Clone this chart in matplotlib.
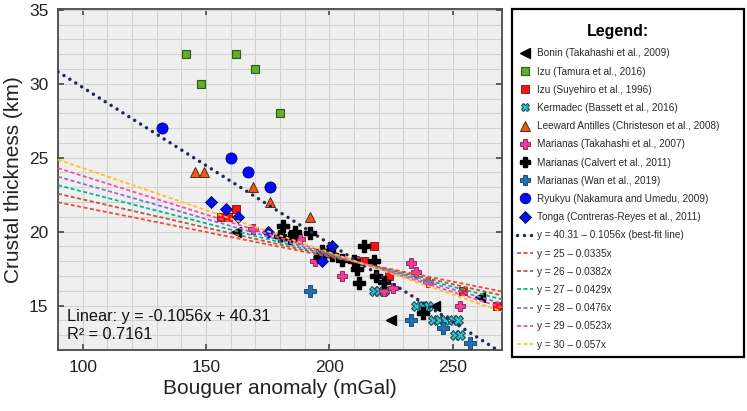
import numpy as np
import matplotlib
matplotlib.use("Agg")
import matplotlib.pyplot as plt
from matplotlib.patches import Rectangle
from matplotlib.ticker import MultipleLocator

plt.rcParams['font.family'] = ['Liberation Sans', 'DejaVu Sans']

# data (Bouguer anomaly mGal, crustal thickness km)
bonin_x = [162, 225, 243, 261]
bonin_y = [20, 14, 15, 15.6]

izu_tamura_x = [142, 162, 170, 148, 180]
izu_tamura_y = [32, 32, 31, 30, 28]

izu_suyehiro_x = [156, 159, 162, 218, 214, 224, 254, 268]
izu_suyehiro_y = [21, 21, 21.5, 19, 18, 17, 16, 15]

kermadec_x = [218, 220, 222, 235, 238, 240, 242, 244.5, 247, 250, 252, 251, 253]
kermadec_y = [16, 16, 16, 15, 15, 15, 14, 14, 14, 14, 14, 13, 13]

leeward_x = [145.5, 149, 169, 176, 192, 180.5]
leeward_y = [24, 24, 23, 22, 21, 20]

mar_takahashi_x = [169, 188, 194, 211, 205, 222, 225.6, 233, 235, 240, 253]
mar_takahashi_y = [20.2, 19.5, 18, 18, 17, 16, 16.2, 17.9, 17.3, 16.6, 15]

mar_calvert_x = [181, 186, 180, 192, 184, 197, 200, 201, 205, 196, 214, 210,
                 218, 211, 212, 219, 222, 238]
mar_calvert_y = [20.4, 20, 19.7, 19.9, 19.6, 18.7, 18.7, 18.4, 18.1, 18.3, 19,
                 18, 18, 17.5, 16.5, 17, 16.6, 14.5]

mar_wan_x = [192, 233, 246, 257]
mar_wan_y = [16, 14, 13.5, 12.5]

ryukyu_x = [132, 160, 167, 176]
ryukyu_y = [27, 25, 24, 23]

tonga_x = [152, 158, 163, 175, 201, 197]
tonga_y = [22, 21.5, 21, 20, 19, 18]

# reference lines y = a - b*x
fit_a, fit_b = 40.31, 0.1056
ref_a = [25, 26, 27, 28, 29, 30]
ref_b = [0.0335, 0.0382, 0.0429, 0.0476, 0.0523, 0.057]
ref_colors = ['#ee4b3e', '#b8583e', '#00b88a', '#8b6fd6', '#ff4aa5', '#ffc21a']

fig = plt.figure(figsize=(7.47, 4.11), dpi=100)
ax = fig.add_axes([0.0777, 0.1484, 0.5944, 0.8297])
ax.set_facecolor('#efefef')

ax.plot(bonin_x, bonin_y, ls='none', marker='<', ms=7, color='black', mec='black',
        label='Bonin (Takahashi et al., 2009)', zorder=4)
ax.plot(izu_tamura_x, izu_tamura_y, ls='none', marker='s', ms=5.5, color='#5fae2e', mec='#2d5a14',
        mew=0.8, label='Izu (Tamura et al., 2016)', zorder=4)
ax.plot(izu_suyehiro_x, izu_suyehiro_y, ls='none', marker='s', ms=6, color='#ff1010', mec='#7a1010',
        mew=0.6, label='Izu (Suyehiro et al., 1996)', zorder=4)
ax.plot(kermadec_x, kermadec_y, ls='none', marker='X', ms=6.5, color='#35c4cc', mec='#1d4f5e',
        mew=0.8, label='Kermadec (Bassett et al., 2016)', zorder=4)
ax.plot(leeward_x, leeward_y, ls='none', marker='^', ms=7, color='#f0561c', mec='#5a2a10',
        mew=0.7, label='Leeward Antilles (Christeson et al., 2008)', zorder=4)
ax.plot(mar_takahashi_x, mar_takahashi_y, ls='none', marker='P', ms=7.5, color='#f23c9c', mec='#7a1e4e',
        mew=0.6, label='Marianas (Takahashi et al., 2007)', zorder=4)
ax.plot(mar_calvert_x, mar_calvert_y, ls='none', marker='P', ms=8, color='black', mec='black',
        label='Marianas (Calvert et al., 2011)', zorder=4)
ax.plot(mar_wan_x, mar_wan_y, ls='none', marker='P', ms=8, color='#1f6fb2', mec='#123c60',
        mew=0.6, label='Marianas (Wan et al., 2019)', zorder=4)
ax.plot(ryukyu_x, ryukyu_y, ls='none', marker='o', ms=8, color='#0008ff', mec='#00007a',
        mew=0.6, label='Ryukyu (Nakamura and Umedu, 2009)', zorder=4)
ax.plot(tonga_x, tonga_y, ls='none', marker='D', ms=6, color='#0010ee', mec='#00006a',
        mew=0.6, label='Tonga (Contreras-Reyes et al., 2011)', zorder=4)

xs = np.array([90, 270])
ax.plot(xs, fit_a - fit_b * xs, color='#1b2a5c', lw=2.5, ls=(0, (0.01, 2.0)),
        dash_capstyle='round', label='y = 40.31 \u2013 0.1056x (best-fit line)', zorder=5)
for a, b, c in zip(ref_a, ref_b, ref_colors):
    ax.plot(xs, a - b * xs, color=c, lw=1.3, ls=(0, (2.2, 1.4)),
            label='y = %g \u2013 %gx' % (a, b), zorder=5)

ax.set_xlim(90, 270)
ax.set_ylim(12.0, 35.05)
ax.xaxis.set_major_locator(MultipleLocator(50))
ax.xaxis.set_minor_locator(MultipleLocator(10))
ax.yaxis.set_major_locator(MultipleLocator(5))
ax.yaxis.set_minor_locator(MultipleLocator(1))
ax.grid(which='both', color='#d2d2d2', lw=0.8, zorder=0)
ax.set_axisbelow(True)
ax.tick_params(which='major', direction='in', length=4, width=1.1, top=True, right=True,
               labelsize=12.5, colors='#3a3a3a', labelcolor='#222222', pad=7)
ax.tick_params(which='minor', length=0)
for s in ax.spines.values():
    s.set_color('#4a4a4a')
    s.set_linewidth(1.3)

ax.set_xlabel('Bouguer anomaly (mGal)', fontsize=15, color='#222222', labelpad=3)
ax.set_ylabel('Crustal thickness (km)', fontsize=15, color='#222222', labelpad=4)

ax.text(93.5, 14.25, 'Linear: y = -0.1056x + 40.31', fontsize=11.7, color='#111111',
        va='center', ha='left', zorder=6)
ax.text(93.5, 13.05, 'R\u00b2 = 0.7161', fontsize=11.7, color='#111111',
        va='center', ha='left', zorder=6)

# legend in its own box on the right
lax = fig.add_axes([0.6854, 0.1314, 0.3106, 0.8467])
lax.axis('off')
lax.add_patch(Rectangle((0, 0), 1, 1, transform=lax.transAxes, fill=False,
                        ec='black', lw=1.6, clip_on=False))
handles, labels = ax.get_legend_handles_labels()
leg = lax.legend(handles, labels, loc='upper left', bbox_to_anchor=(-0.01, 0.978),
                 frameon=False, title='Legend:', fontsize=7.2, labelspacing=0.82,
                 handlelength=1.6, handletextpad=0.45, borderaxespad=0.3, markerscale=0.95)
leg.get_title().set_fontweight('bold')
leg.get_title().set_fontsize(11.5)
leg._legend_box.align = 'center'
leg._legend_box.sep = 7
for t in leg.get_texts():
    t.set_color('#2a2a2a')

fig.savefig('out.png', dpi=100)
